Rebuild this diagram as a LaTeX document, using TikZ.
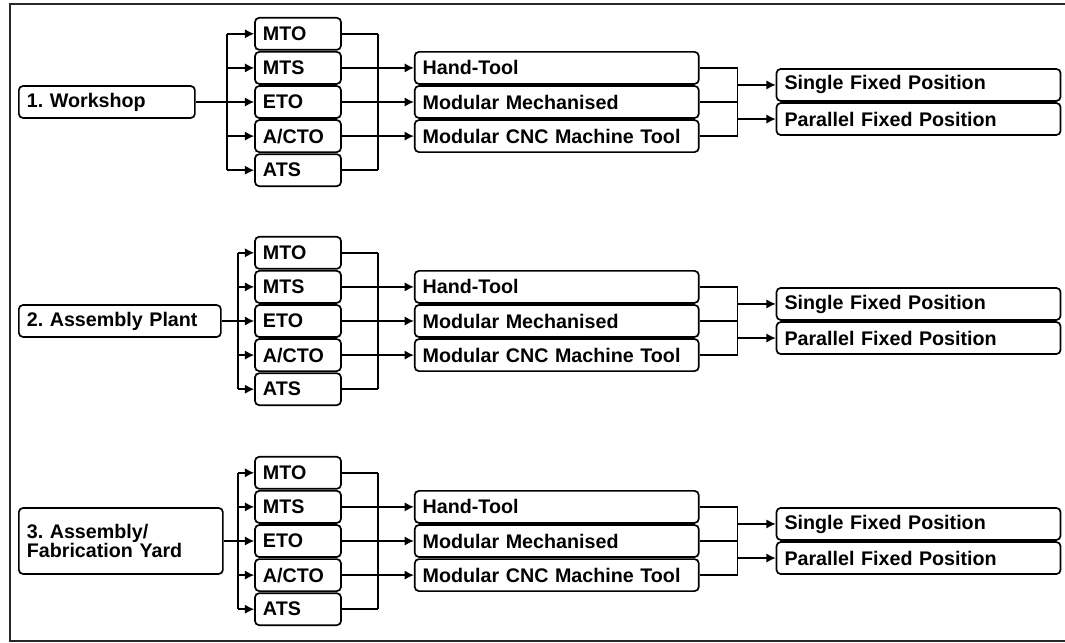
\documentclass[tikz,border=0pt]{standalone}
\usepackage{fontspec}
\setmainfont{Liberation Sans}
\usepackage{tikz}
\usetikzlibrary{positioning,arrows.meta,calc}
\definecolor{frameline}{RGB}{40,40,40}
\frenchspacing

\begin{document}
\begin{tikzpicture}[x=0.025cm,y=-0.025cm,
  font=\bfseries\fontsize{14}{14}\selectfont,
  box/.style={draw,rounded corners=3pt,line width=1.2pt,minimum height=0.8cm,inner xsep=0.2cm,align=left},
  mode/.style={box,text width=1.75cm},
  wide/.style={box,text width=6.7cm},
  ln/.style={line width=1pt},
  arr/.style={-{Latex[length=2.3mm,width=2.3mm]},line width=1pt}]
\useasboundingbox (0,0) rectangle (1065,643);
\clip (0,0) rectangle (1065,643);
\draw[frameline,line width=1.2pt] (10,4) rectangle (1090,641);
\foreach \p/\yc/\bx/\sw/\sh/\lbl in {1/102/227/4.0cm/0.8cm/{1. Workshop},
    2/321/238/4.65cm/0.8cm/{2. Assembly Plant},
    3/541/238/4.7cm/1.65cm/{3. Assembly/\\Fabrication Yard}}{
  % site and order modes
  \node[box,text width=\sw,minimum height=\sh,anchor=west] (site\p) at (18,\yc) {\lbl};
  \node[mode] (eto\p) at (298,\yc) {ETO};
  \node[mode,above=0.01cm of eto\p] (mts\p) {MTS};
  \node[mode,above=0.01cm of mts\p] (mto\p) {MTO};
  \node[mode,below=0.01cm of eto\p] (cto\p) {A/CTO};
  \node[mode,below=0.01cm of cto\p] (ats\p) {ATS};
  % tooling
  \node[wide,right=1.8cm of mts\p] (hand\p) {Hand-Tool};
  \node[wide,below=0.01cm of hand\p] (mech\p) {Modular Mechanised};
  \node[wide,below=0.01cm of mech\p] (cnc\p) {Modular CNC Machine Tool};
  % layout
  \coordinate (mid\p) at ($(hand\p.east)!0.5!(mech\p.east)$);
  \node[wide,right=1.9cm of mid\p] (single\p) {Single Fixed Position};
  \node[wide,below=0.01cm of single\p] (par\p) {Parallel Fixed Position};
  % buses
  \coordinate (in\p) at (\bx,\yc);
  \coordinate (out\p) at ($(eto\p.east)+(36,0)$);
  \coordinate (lay\p) at ($(mech\p.east)+(38,0)$);
  \draw[ln] (site\p) -- (in\p);
  \draw[ln] (in\p |- mto\p) -- (in\p |- ats\p);
  \draw[ln] (out\p |- mto\p) -- (out\p |- ats\p);
  \draw[ln] (lay\p |- hand\p) -- (lay\p |- cnc\p);
  \foreach \m in {mto,mts,eto,cto,ats}{
    \draw[arr] (in\p |- \m\p) -- (\m\p);
    \draw[ln] (\m\p) -- (out\p |- \m\p);
  }
  \foreach \q in {hand,mech,cnc}{
    \draw[arr] (out\p |- \q\p) -- (\q\p);
    \draw[ln] (\q\p) -- (lay\p |- \q\p);
  }
  \draw[arr] (lay\p |- single\p) -- (single\p);
  \draw[arr] (lay\p |- par\p) -- (par\p);
}
\end{tikzpicture}
\end{document}
